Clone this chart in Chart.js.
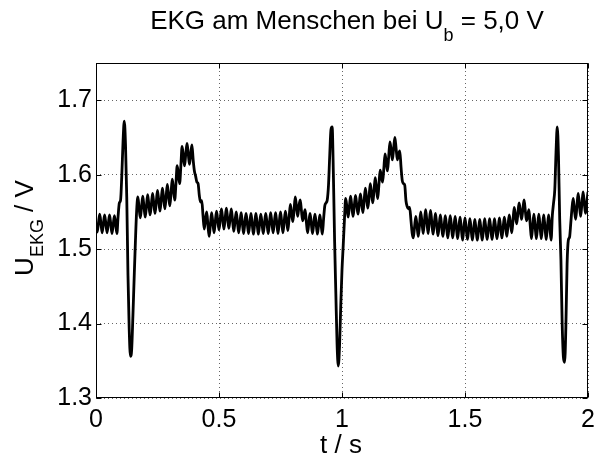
<!DOCTYPE html>
<html>
<head>
<meta charset="utf-8">
<title>EKG am Menschen</title>
<script src="https://cdn.jsdelivr.net/npm/chart.js@4.4.0/dist/chart.umd.min.js"></script>
<style>
    body { margin: 0; background: #fff; }
    #wrap { width: 596px; height: 459px; }
</style>
</head>
<body>
<div id="wrap"><canvas id="ekgChart" width="596" height="459"></canvas></div>
<script>
// Sample spacing of the recording (s)
const dt = 0.005;

// U_EKG in V, every 5 ms, one row = 0.1 s
const uEkg = [
    1.535, 1.523, 1.535, 1.547, 1.535, 1.522, 1.534, 1.546, 1.534, 1.522, 1.534, 1.546, 1.534, 1.521, 1.533, 1.545, 1.533, 1.521, 1.545, 1.562,
    1.566, 1.600, 1.645, 1.672, 1.640, 1.570, 1.465, 1.392, 1.356, 1.365, 1.410, 1.460, 1.508, 1.550, 1.570, 1.556, 1.542, 1.556, 1.571, 1.557,
    1.543, 1.557, 1.573, 1.559, 1.546, 1.560, 1.575, 1.561, 1.548, 1.563, 1.579, 1.565, 1.551, 1.566, 1.582, 1.568, 1.554, 1.570, 1.587, 1.572,
    1.558, 1.575, 1.594, 1.580, 1.566, 1.588, 1.612, 1.600, 1.588, 1.612, 1.638, 1.625, 1.612, 1.628, 1.642, 1.628, 1.614, 1.628, 1.640, 1.620,
    1.605, 1.598, 1.590, 1.588, 1.572, 1.563, 1.565, 1.545, 1.527, 1.540, 1.550, 1.532, 1.517, 1.533, 1.549, 1.535, 1.522, 1.537, 1.551, 1.538,
    1.526, 1.540, 1.554, 1.540, 1.527, 1.541, 1.555, 1.541, 1.528, 1.541, 1.554, 1.539, 1.524, 1.537, 1.550, 1.536, 1.522, 1.535, 1.549, 1.535,
    1.521, 1.535, 1.548, 1.535, 1.521, 1.534, 1.548, 1.534, 1.520, 1.534, 1.548, 1.534, 1.520, 1.534, 1.547, 1.534, 1.521, 1.535, 1.548, 1.535,
    1.521, 1.535, 1.549, 1.535, 1.522, 1.536, 1.549, 1.535, 1.521, 1.536, 1.550, 1.536, 1.522, 1.537, 1.551, 1.538, 1.525, 1.542, 1.560, 1.548,
    1.537, 1.552, 1.570, 1.557, 1.544, 1.558, 1.566, 1.552, 1.538, 1.545, 1.553, 1.537, 1.522, 1.535, 1.548, 1.535, 1.521, 1.534, 1.547, 1.534,
    1.520, 1.533, 1.546, 1.533, 1.520, 1.540, 1.558, 1.562, 1.566, 1.585, 1.625, 1.660, 1.664, 1.600, 1.510, 1.440, 1.372, 1.343, 1.370, 1.425,
    1.472, 1.505, 1.540, 1.568, 1.556, 1.543, 1.557, 1.571, 1.557, 1.544, 1.558, 1.572, 1.559, 1.547, 1.560, 1.574, 1.561, 1.549, 1.565, 1.582,
    1.568, 1.555, 1.570, 1.588, 1.575, 1.562, 1.578, 1.596, 1.582, 1.568, 1.586, 1.606, 1.598, 1.590, 1.608, 1.628, 1.616, 1.605, 1.625, 1.644,
    1.632, 1.620, 1.636, 1.650, 1.635, 1.620, 1.628, 1.632, 1.610, 1.592, 1.588, 1.586, 1.565, 1.557, 1.554, 1.556, 1.540, 1.522, 1.515, 1.530,
    1.544, 1.531, 1.517, 1.532, 1.550, 1.536, 1.521, 1.537, 1.553, 1.537, 1.521, 1.537, 1.552, 1.536, 1.520, 1.534, 1.548, 1.533, 1.518, 1.532,
    1.546, 1.531, 1.517, 1.531, 1.545, 1.530, 1.515, 1.530, 1.545, 1.530, 1.515, 1.530, 1.544, 1.529, 1.514, 1.529, 1.543, 1.528, 1.512, 1.527,
    1.542, 1.527, 1.513, 1.527, 1.541, 1.526, 1.512, 1.526, 1.540, 1.526, 1.512, 1.526, 1.540, 1.526, 1.512, 1.526, 1.541, 1.527, 1.513, 1.527,
    1.541, 1.527, 1.513, 1.527, 1.541, 1.527, 1.514, 1.528, 1.542, 1.528, 1.515, 1.529, 1.543, 1.530, 1.517, 1.532, 1.546, 1.534, 1.522, 1.538,
    1.556, 1.545, 1.534, 1.548, 1.562, 1.551, 1.540, 1.553, 1.566, 1.552, 1.538, 1.545, 1.553, 1.533, 1.514, 1.530, 1.547, 1.531, 1.514, 1.530,
    1.547, 1.531, 1.514, 1.530, 1.546, 1.530, 1.513, 1.530, 1.546, 1.529, 1.512, 1.545, 1.562, 1.580, 1.630, 1.664, 1.625, 1.540, 1.485, 1.400,
    1.355, 1.348, 1.395, 1.480, 1.512, 1.516, 1.535, 1.555, 1.568, 1.552, 1.540, 1.558, 1.575, 1.560, 1.544, 1.560, 1.577, 1.562, 1.548, 1.562,
    1.577
];

// Axis ticks and limits
const xTicks = [0, 0.5, 1, 1.5, 2];
const yTicks = [1.3, 1.4, 1.5, 1.6, 1.7];
const xRange = [0, 2];
const yRange = [1.3, 1.75];

const FONT = "'Liberation Sans', Arial, Helvetica, sans-serif";

// text with subscripts: parts = [[text, size, dy], ...], centred on cx
function drawParts(ctx, parts, cx, baseY) {
    let total = 0;
    parts.forEach(p => {
        ctx.font = p[1] + 'px ' + FONT;
        total += ctx.measureText(p[0]).width;
    });
    let x = cx - total / 2;
    parts.forEach(p => {
        ctx.font = p[1] + 'px ' + FONT;
        ctx.fillText(p[0], x, baseY + p[2]);
        x += ctx.measureText(p[0]).width;
    });
}

// box, inward tick marks and the labels (matlab style)
const matlabFrame = {
    id: 'matlabFrame',
    afterDraw(chart) {
        const ctx = chart.ctx;
        const a = chart.chartArea;
        const xs = chart.scales.x;
        const ys = chart.scales.y;
        const L = Math.round(a.left) + 0.5, R = Math.round(a.right) - 0.5;
        const T = Math.round(a.top) + 0.5, B = Math.round(a.bottom) - 0.5;
        const tl = 5;

        ctx.save();
        ctx.strokeStyle = '#000';
        ctx.lineWidth = 1;
        ctx.beginPath();
        xTicks.forEach(v => {
            const px = Math.round(xs.getPixelForValue(v)) + 0.5;
            ctx.moveTo(px, B); ctx.lineTo(px, B - tl);
            ctx.moveTo(px, T); ctx.lineTo(px, T + tl);
        });
        yTicks.forEach(v => {
            const py = Math.round(ys.getPixelForValue(v)) + 0.5;
            ctx.moveTo(L, py); ctx.lineTo(L + tl, py);
            ctx.moveTo(R, py); ctx.lineTo(R - tl, py);
        });
        ctx.stroke();
        ctx.strokeRect(L, T, R - L, B - T);

        ctx.fillStyle = '#000';
        ctx.textAlign = 'left';
        ctx.textBaseline = 'alphabetic';
        drawParts(ctx, [['EKG am Menschen bei U', 26, 0], ['b', 18, 12], [' = 5,0 V', 26, 0]], 347, 29);
        drawParts(ctx, [['t / s', 26, 0]], 341, 453);

        ctx.translate(33, 228);
        ctx.rotate(-Math.PI / 2);
        drawParts(ctx, [['U', 26, 0], ['EKG', 18, 10], [' / V', 26, 0]], 0, 0);
        ctx.restore();
    }
};

document.addEventListener('DOMContentLoaded', function() {
    const ctx = document.getElementById('ekgChart');

    new Chart(ctx, {
        type: 'line',
        data: {
            datasets: [{
                data: uEkg.map((u, i) => ({ x: i * dt, y: u })),
                borderColor: '#000',
                borderWidth: 2.8,
                pointRadius: 0,
                cubicInterpolationMode: 'monotone',
                fill: false
            }]
        },
        options: {
            responsive: false,
            animation: false,
            layout: { padding: { left: 0, right: 8, top: 63, bottom: 0 } },
            plugins: {
                legend: { display: false },
                tooltip: { enabled: false }
            },
            scales: {
                x: {
                    type: 'linear',
                    min: xRange[0],
                    max: xRange[1],
                    afterBuildTicks: s => { s.ticks = xTicks.map(v => ({ value: v })); },
                    afterFit: s => { s.height = 61; s.paddingLeft = 0; s.paddingRight = 0; },
                    grid: { color: 'rgba(0,0,0,0.6)', lineWidth: 1, drawTicks: false },
                    border: { display: false, dash: [1, 3] },
                    ticks: {
                        color: '#000',
                        font: { family: FONT, size: 25 },
                        padding: 7,
                        maxRotation: 0,
                        autoSkip: false,
                        callback: v => String(v)
                    }
                },
                y: {
                    type: 'linear',
                    min: yRange[0],
                    max: yRange[1],
                    afterBuildTicks: s => { s.ticks = yTicks.map(v => ({ value: v })); },
                    afterFit: s => { s.width = 96; s.paddingTop = 0; s.paddingBottom = 0; },
                    grid: { color: 'rgba(0,0,0,0.6)', lineWidth: 1, drawTicks: false },
                    border: { display: false, dash: [1, 3] },
                    ticks: {
                        color: '#000',
                        font: { family: FONT, size: 25 },
                        padding: 4,
                        callback: v => v.toFixed(1)
                    }
                }
            }
        },
        plugins: [matlabFrame]
    });
});
</script>
</body>
</html>
